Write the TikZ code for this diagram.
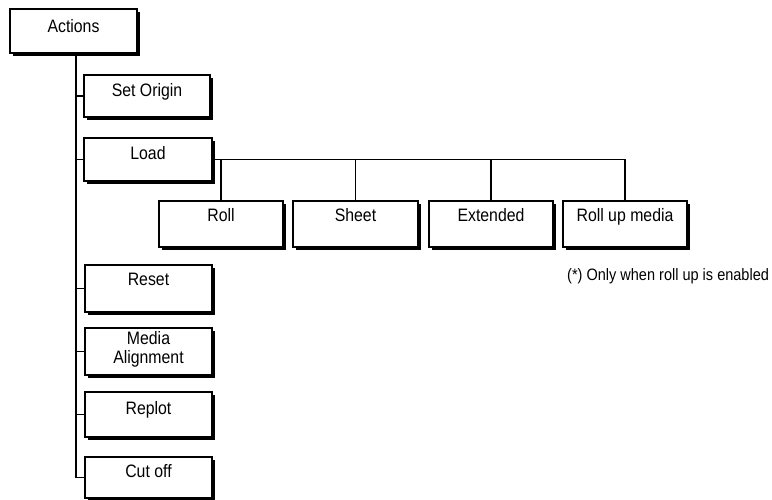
\documentclass[tikz,border=0pt]{standalone}
\usepackage{fontspec}
\setmainfont[FakeStretch=0.88]{Liberation Sans}
\usetikzlibrary{shadows}
\begin{document}
\begin{tikzpicture}[x=1pt,y=-1pt,
  menubox/.style={draw=black, line width=1.3pt, fill=white, anchor=north west,
    inner sep=0pt, outer sep=0pt, align=center,
    font=\fontsize{18}{19}\selectfont,
    general shadow={fill=black, shadow xshift=3pt, shadow yshift=-3pt}},
  link/.style={draw=black, line width=1.6pt},
  note/.style={anchor=base west, inner sep=0pt, font=\fontsize{16.5}{18}\selectfont}]
\useasboundingbox (0,0) rectangle (772,500);

\node[menubox, minimum width=127pt, text height=24pt, text depth=20pt] (actions) at (10,9) {Actions};
\node[menubox, minimum width=126pt, text height=22pt, text depth=20pt] (setorigin) at (84,75) {Set Origin};
\node[menubox, minimum width=128pt, text height=22pt, text depth=21pt] (load) at (84,138) {Load};
\node[menubox, minimum width=124pt, text height=21pt, text depth=25pt] (roll) at (159,201) {Roll};
\node[menubox, minimum width=125pt, text height=21pt, text depth=25pt] (sheet) at (293,201) {Sheet};
\node[menubox, minimum width=124pt, text height=21pt, text depth=25pt] (extended) at (429,201) {Extended};
\node[menubox, minimum width=124pt, text height=21pt, text depth=25pt] (rollup) at (563,201) {Roll up media};
\node[menubox, minimum width=127pt, text height=20pt, text depth=27pt] (reset) at (85,265) {Reset};
\node[menubox, minimum width=127pt, text height=35pt, text depth=12pt] (media) at (85,328) {Media\\Alignment};
\node[menubox, minimum width=127pt, text height=22pt, text depth=23pt] (replot) at (85,392) {Replot};
\node[menubox, minimum width=127pt, text height=20pt, text depth=21pt] (cutoff) at (85,457) {Cut off};

\node[note] (notetext) at (567,280) {(*) Only when roll up is enabled};

% trunk
\draw[link] (actions.south) ++(2.5,0) coordinate (trunk) |- (cutoff.west);
\foreach \n in {setorigin,load,reset,media,replot}
  \draw[link] (\n.west) -- (\n.west -| trunk);

% load branches
\draw[link] (load.east) -| (rollup.north);
\foreach \n in {roll,sheet,extended}
  \draw[link] (\n.north) -- (\n.north |- load.east);
\end{tikzpicture}
\end{document}
